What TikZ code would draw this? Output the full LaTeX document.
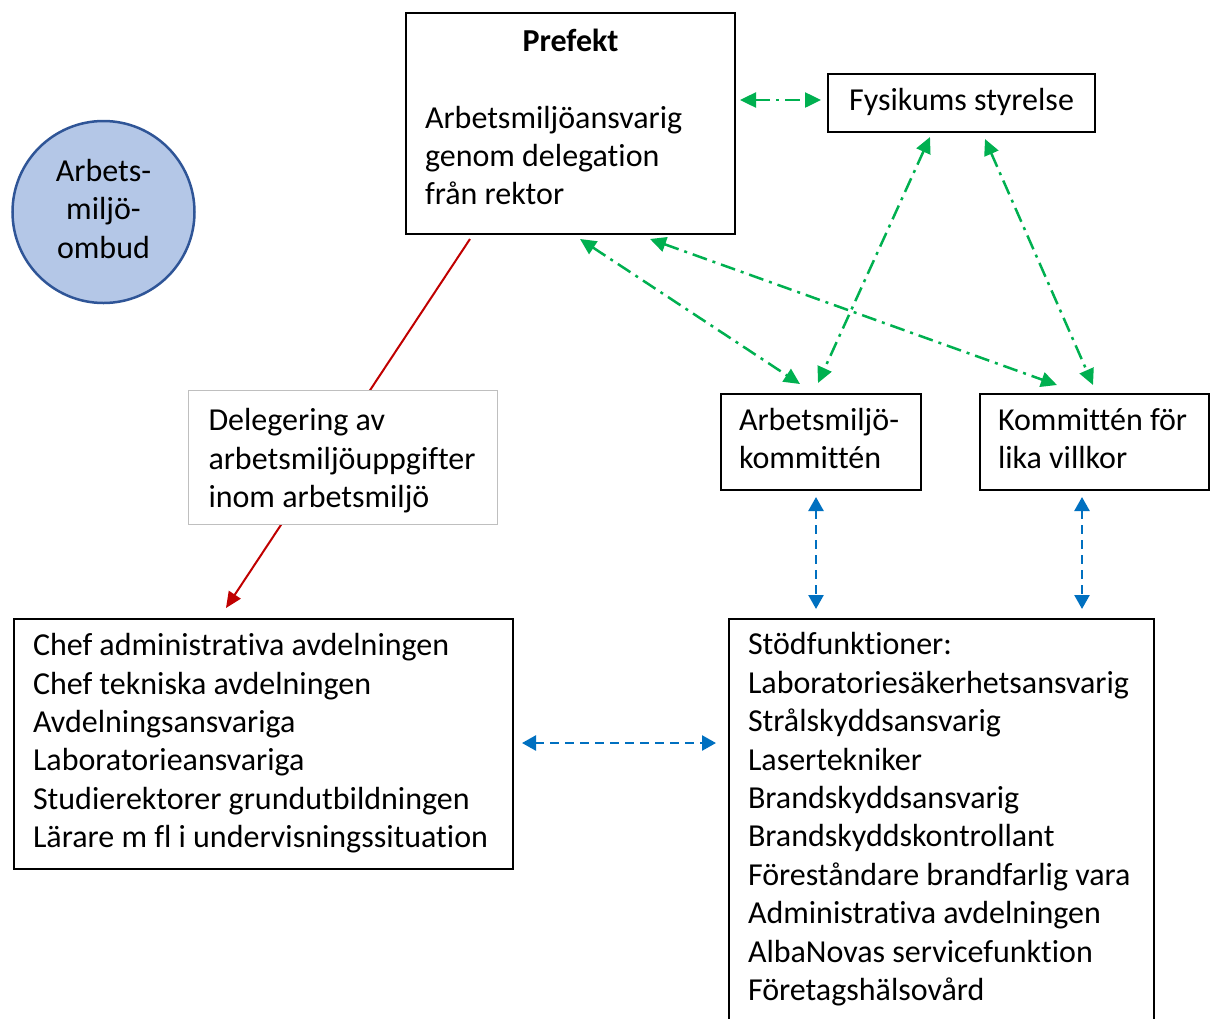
\documentclass[tikz,border=0pt]{standalone}
\usepackage{fontspec}
\setmainfont{Carlito}[Ligatures=NoCommon]
\usetikzlibrary{arrows.meta}
\definecolor{grn}{HTML}{00B050}
\definecolor{blu}{HTML}{0070C0}
\definecolor{rd}{HTML}{C00000}
\definecolor{circfill}{HTML}{B4C7E7}
\definecolor{circline}{HTML}{2F5597}
\definecolor{gry}{HTML}{BFBFBF}
\begin{document}
\begin{tikzpicture}[x=1pt,y=-1pt,
  txt/.style={font=\fontsize{32}{38.4}\selectfont},
  box/.style={draw=black, line width=2pt, fill=white, txt, anchor=north west, align=flush left, inner ysep=0pt},
  gline/.style={grn, line width=2.5pt, dash pattern=on 15pt off 6pt on 3pt off 6pt,
     {Triangle[length=16pt,width=15pt]}-{Triangle[length=16pt,width=15pt]}},
  bline/.style={blu, line width=2.5pt, dash pattern=on 9pt off 6pt,
     {Triangle[length=14pt,width=15pt]}-{Triangle[length=14pt,width=15pt]}},
  rline/.style={rd, line width=2pt, -{Triangle[length=16pt,width=14pt]}}
]
\useasboundingbox (0,0) rectangle (1212,1018);

% main boxes
\node[box, minimum width=329, minimum height=221, text width=291, inner xsep=19] (pref) at (405,12)
  {\strut\makebox[\linewidth]{\bfseries Prefekt}\\ \strut\\ Arbetsmiljöansvarig\\ genom~delegation\\ från~rektor\rule[-17.5pt]{0pt}{1pt}};
\node[box, minimum width=267, minimum height=58, inner xsep=0, align=flush center] (fys) at (827,73)
  {\strut Fysikums~styrelse\strut};
\node[circle, draw=circline, fill=circfill, line width=2.5pt, minimum size=182, inner sep=0pt, txt, align=flush center] (amo) at (103.5,212)
  {\strut Arbets-\\miljö-\\ombud\strut};
\node[box, minimum width=200, minimum height=96, text width=164, inner xsep=18] (amk) at (720,393)
  {\strut Arbetsmiljö-\\kommittén\strut};
\node[box, minimum width=229, minimum height=96, text width=193, inner xsep=18] (klv) at (979,393)
  {\strut Kommittén~för\\lika~villkor\strut};
\node[box, minimum width=499, minimum height=250, text width=461, inner xsep=19] (chef) at (13,618)
  {\strut Chef~administrativa~avdelningen\\
   Chef~tekniska~avdelningen\\
   Avdelningsansvariga\\
   Laboratorieansvariga\\
   Studierektorer~grundutbildningen\\
   Lärare~m~fl~i~undervisningssituation\strut};
\node[box, minimum width=425, minimum height=402, text width=387, inner xsep=19] (stod) at (728,618)
  {\strut Stödfunktioner:\\
   Laboratoriesäkerhetsansvarig\\
   Strålskyddsansvarig\\
   Lasertekniker\\
   Brandskyddsansvarig\\
   Brandskyddskontrollant\\
   Föreståndare~brandfarlig~vara\\
   Administrativa~avdelningen\\
   AlbaNovas~servicefunktion\\
   Företagshälsovård\strut};

% connector ends
\coordinate (r1) at (470,239);
\coordinate (r2) at (226,608);
\coordinate (g1a) at (740,100);  \coordinate (g1b) at (821,100);
\coordinate (g2a) at (930,137);  \coordinate (g2b) at (818,383);
\coordinate (g3a) at (985,139);  \coordinate (g3b) at (1093,385);
\coordinate (g4a) at (580,239);  \coordinate (g4b) at (800,384);
\coordinate (g5a) at (650,239);  \coordinate (g5b) at (1057,385);
\coordinate (b1a) at (816,497);  \coordinate (b1b) at (816,609);
\coordinate (b2a) at (1082,497); \coordinate (b2b) at (1082,609);
\coordinate (b3a) at (522,743);  \coordinate (b3b) at (716,743);

% red delegation line (behind label box)
\draw[rline] (r1) -- (r2);
\node[box, draw=gry, line width=1pt, minimum width=309, minimum height=134, text width=269, inner xsep=20] (del) at (188,390)
  {\rule{0pt}{34.9pt}Delegering~av\\arbetsmiljöuppgifter\\inom~arbetsmiljö\strut};

% green dash-dot connectors
\draw[gline] (g1a) -- (g1b);
\draw[gline] (g2a) -- (g2b);
\draw[gline] (g3a) -- (g3b);
\draw[gline] (g4a) -- (g4b);
\draw[gline] (g5a) -- (g5b);

% blue dashed connectors
\draw[bline] (b1a) -- (b1b);
\draw[bline] (b2a) -- (b2b);
\draw[bline] (b3a) -- (b3b);
\end{tikzpicture}
\end{document}
